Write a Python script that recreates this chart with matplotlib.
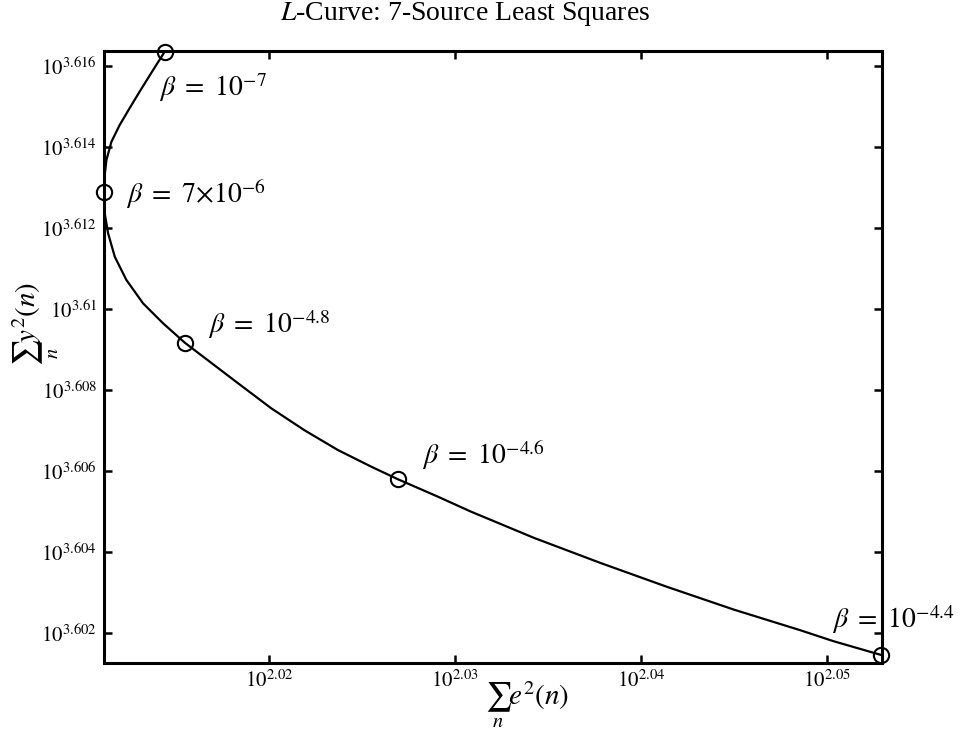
import numpy as np
import matplotlib
matplotlib.use("Agg")
import matplotlib.pyplot as plt
from matplotlib.ticker import FixedLocator, FixedFormatter, NullLocator

plt.rcParams["mathtext.fontset"] = "stix"
plt.rcParams["font.family"] = ["Liberation Serif", "DejaVu Serif"]

# L-curve, stored as log10 of the two sums
log_err = [2.01438, 2.01376, 2.01304, 2.01250, 2.01196, 2.01152, 2.01125,
           2.01113, 2.01112, 2.01116, 2.01134, 2.01170, 2.01232, 2.01322,
           2.01429, 2.01546, 2.01832, 2.02011, 2.02189, 2.02369, 2.02548,
           2.02691, 2.02906, 2.03084, 2.03424, 2.03782, 2.04140, 2.04498,
           2.04856, 2.05034, 2.05290]
log_sig = [3.61635, 3.61590, 3.61537, 3.61496, 3.61454, 3.61413, 3.61368,
           3.61319, 3.61289, 3.61236, 3.61187, 3.61129, 3.61072, 3.61014,
           3.60965, 3.60917, 3.60817, 3.60755, 3.60701, 3.60652, 3.60611,
           3.60580, 3.60537, 3.60500, 3.60435, 3.60373, 3.60314, 3.60258,
           3.60207, 3.60180, 3.60146]

# marked regularisation values (index into the curve) and their labels
beta_idx = [0, 8, 15, 21, 30]
beta_labels = [r"$\beta\ =\ 10^{-7}$", r"$\beta\ =\ 7{\times}10^{-6}$",
               r"$\beta\ =\ 10^{-4.8}$", r"$\beta\ =\ 10^{-4.6}$",
               r"$\beta\ =\ 10^{-4.4}$"]

xtick_exp = [2.02, 2.03, 2.04, 2.05]
xtick_txt = ["2.02", "2.03", "2.04", "2.05"]
ytick_exp = [3.602, 3.604, 3.606, 3.608, 3.610, 3.612, 3.614, 3.616]
ytick_txt = ["3.602", "3.604", "3.606", "3.608", "3.61", "3.612", "3.614", "3.616"]

err = 10 ** np.array(log_err)
sig = 10 ** np.array(log_sig)

fig = plt.figure(figsize=(9.6, 7.35), dpi=100)
ax = fig.add_axes([104 / 960, 1 - 663 / 735, 778 / 960, 612 / 735])

ax.plot(err, sig, color="black", lw=1.6)
ax.plot(err[beta_idx], sig[beta_idx], "o", ms=11, mfc="none", mec="black",
        mew=1.5, clip_on=False)

ax.set_xscale("log")
ax.set_yscale("log")
ax.set_xlim(10 ** 2.01112, 10 ** 2.05296)
ax.set_ylim(10 ** 3.60126, 10 ** 3.61637)

ax.xaxis.set_major_locator(FixedLocator(10 ** np.array(xtick_exp)))
ax.xaxis.set_major_formatter(FixedFormatter([r"$10^{%s}$" % t for t in xtick_txt]))
ax.yaxis.set_major_locator(FixedLocator(10 ** np.array(ytick_exp)))
ax.yaxis.set_major_formatter(FixedFormatter([r"$10^{%s}$" % t for t in ytick_txt]))
ax.xaxis.set_minor_locator(NullLocator())
ax.yaxis.set_minor_locator(NullLocator())
ax.tick_params(which="major", direction="in", length=6, width=1.8,
               top=True, right=True, labelsize=15, pad=5, colors="black")
for s in ax.spines.values():
    s.set_linewidth(2.2)

# beta annotations, offsets in pixels from each marker
offsets = [(-6, -44), (22, -11), (23, 10), (24, 15), (-49, 27)]
for i, lab, (dx, dy) in zip(beta_idx, beta_labels, offsets):
    ax.annotate(lab, (err[i], sig[i]), xytext=(dx * 0.72, dy * 0.72),
                textcoords="offset points", fontsize=20, ha="left",
                va="baseline", annotation_clip=False)

fig.text(465 / 960, 1 - 14 / 735, r"$\mathit{L}$-Curve: 7-Source Least Squares",
         ha="center", va="center", fontsize=20)
fig.text(527 / 960, 1 - 705 / 735, r"$\sum_n e^2(n)$", ha="center",
         va="center", fontsize=21)
fig.text(36 / 960, 1 - 324 / 735, r"$\sum_n y^2(n)$", ha="center",
         va="center", fontsize=21, rotation=90)

fig.savefig("out.png", dpi=100)
